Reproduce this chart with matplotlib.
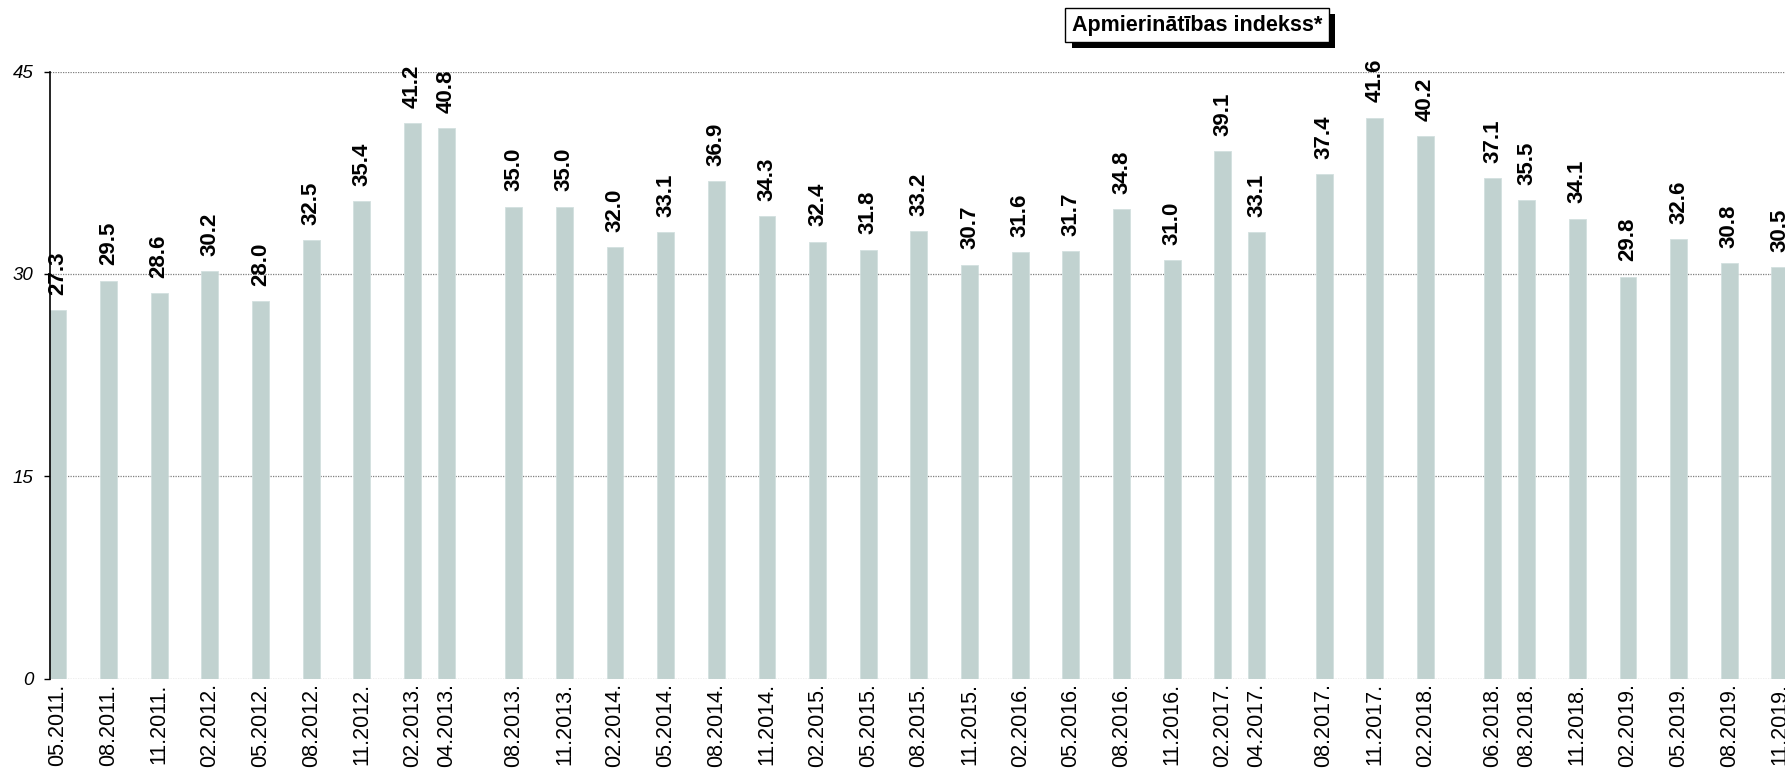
import matplotlib
matplotlib.use("Agg")
import matplotlib.pyplot as plt
import matplotlib.patheffects as pe

plt.rcParams['font.family'] = ['Liberation Sans', 'DejaVu Sans']

# aptaujas datumi (MM.GGGG.) un indeksa vērtības
labels = ['05.2011.', '08.2011.', '11.2011.', '02.2012.', '05.2012.', '08.2012.',
          '11.2012.', '02.2013.', '04.2013.', '08.2013.', '11.2013.', '02.2014.',
          '05.2014.', '08.2014.', '11.2014.', '02.2015.', '05.2015.', '08.2015.',
          '11.2015.', '02.2016.', '05.2016.', '08.2016.', '11.2016.', '02.2017.',
          '04.2017.', '08.2017.', '11.2017.', '02.2018.', '06.2018.', '08.2018.',
          '11.2018.', '02.2019.', '05.2019.', '08.2019.', '11.2019.']
values = [27.3, 29.5, 28.6, 30.2, 28.0, 32.5, 35.4, 41.2, 40.8, 35.0, 35.0, 32.0,
          33.1, 36.9, 34.3, 32.4, 31.8, 33.2, 30.7, 31.6, 31.7, 34.8, 31.0, 39.1,
          33.1, 37.4, 41.6, 40.2, 37.1, 35.5, 34.1, 29.8, 32.6, 30.8, 30.5]
title = 'Apmierinātības indekss*'
yticks = [0, 15, 30, 45]

# mēnešu skaits no pirmā datuma -> x pozīcija (laika ass)
def month_index(lbl):
    m, y = lbl.strip('.').split('.')
    return int(y) * 12 + int(m)

base = month_index(labels[0])
x = [month_index(l) - base for l in labels]

fig = plt.figure(figsize=(17.85, 7.71), dpi=100)
ax = fig.add_axes([49.5 / 1785, 1 - 678.5 / 771, (1785 - 49.5) / 1785, (678.5 - 71.7) / 771])

ax.bar(x, values, width=1.0, color='#C1D2D0', edgecolor='#D3E0DF', linewidth=0.6, zorder=2)

for xi, v in zip(x, values):
    ax.annotate(f'{v:.1f}', (xi, v), xytext=(0, 11), textcoords='offset points',
                rotation=90, ha='center', va='bottom', fontsize=16, fontweight='bold',
                annotation_clip=False)

ax.set_ylim(0, 45)
ax.set_xlim(-0.5, 102.3)
ax.set_yticks(yticks)
ax.set_yticklabels([str(t) for t in yticks], fontsize=13.5, fontstyle='italic')
ax.set_xticks(x)
ax.set_xticklabels(labels, rotation=90, fontsize=15.5, va='top')
ax.tick_params(axis='x', length=0, pad=3.5)
ax.tick_params(axis='y', length=4.5, width=1, pad=7)

for t in yticks:
    ax.axhline(t, color='#7F7F7F', linestyle=(0, (1, 1)), linewidth=0.9, zorder=1)

for s in ['top', 'right', 'bottom']:
    ax.spines[s].set_visible(False)
ax.spines['left'].set_linewidth(1.2)
ax.spines['left'].set_color('black')

txt = fig.text(1197 / 1785, 1 - 25 / 771, title, ha='center', va='center',
               fontsize=15.5, fontweight='bold',
               bbox=dict(boxstyle='square,pad=0.3', facecolor='white',
                         edgecolor='black', linewidth=1))
txt.get_bbox_patch().set_path_effects(
    [pe.SimplePatchShadow(offset=(4.5, -4.5), shadow_rgbFace='black', alpha=1), pe.Normal()])

fig.savefig('out.png', dpi=100)
